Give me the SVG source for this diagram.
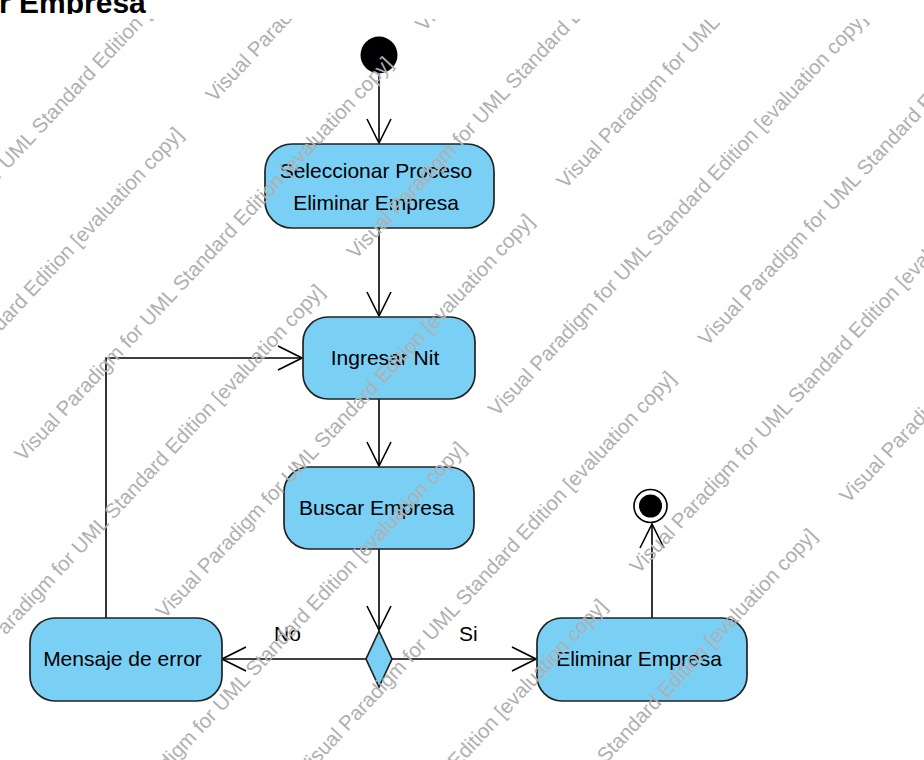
<svg xmlns="http://www.w3.org/2000/svg" width="924" height="760" viewBox="0 0 924 760">
<style>
.act { fill:#7ACFF5; stroke:#222; stroke-width:1.7; }
.lbl { font-family:"Liberation Sans",Arial,sans-serif; font-size:21px; fill:#000; text-anchor:middle; }
.elbl { font-family:"Liberation Sans",Arial,sans-serif; font-size:21px; fill:#000; }
.edge { fill:none; stroke:#000; stroke-width:1.6; marker-end:url(#arr); }
.wm { font-family:"Liberation Sans",Arial,sans-serif; font-size:20.5px; fill:#b0b0b0; }
.title { font-family:"Liberation Sans",Arial,sans-serif; font-size:30px; font-weight:bold; fill:#000; }
</style>
<defs>
<marker id="arr" markerUnits="userSpaceOnUse" viewBox="0 0 26 26" refX="25" refY="13" markerWidth="26" markerHeight="26" orient="auto">
<path d="M1,1 L25,13 L1,25" fill="none" stroke="#000" stroke-width="1.6"/>
</marker>
<clipPath id="titleclip"><rect x="0" y="0" width="924" height="14"/></clipPath>
<clipPath id="wmclip"><rect x="0" y="19" width="924" height="741"/></clipPath>
</defs>
<rect x="0" y="0" width="924" height="760" fill="#fff"/>
<text class="title" x="-1" y="13" clip-path="url(#titleclip)">r Empresa</text>

<g id="connectors">
<path class="edge" d="M379,74 V143"/>
<path class="edge" d="M379,228 V316"/>
<path class="edge" d="M379,399 V466"/>
<path class="edge" d="M379,549 V630"/>
<path class="edge" d="M366,659 H222"/>
<path class="edge" d="M392,659 H536"/>
<path class="edge" d="M652,618 V524"/>
<path class="edge" d="M106,618 V358 H302"/>
<text class="elbl" x="274" y="641">No</text>
<text class="elbl" x="459" y="641">Si</text>
</g>

<g id="start"><circle cx="379" cy="55" r="18.5" fill="#000"/></g>
<g id="seleccionar">
<rect class="act" x="265" y="144" width="229" height="84" rx="27"/>
<text class="lbl" x="376" y="178">Seleccionar Proceso</text>
<text class="lbl" x="376" y="209.5">Eliminar Empresa</text>
</g>
<g id="ingresar">
<rect class="act" x="303" y="317" width="172" height="82" rx="25"/>
<text class="lbl" x="385" y="365">Ingresar Nit</text>
</g>
<g id="buscar">
<rect class="act" x="284" y="467" width="190" height="82" rx="25"/>
<text class="lbl" x="376.5" y="515">Buscar Empresa</text>
</g>
<g id="decision">
<polygon class="act" points="379,631 392,659 379,687 366,659"/>
</g>
<g id="mensaje">
<rect class="act" x="30" y="618" width="192" height="83" rx="25"/>
<text class="lbl" x="122.5" y="666">Mensaje de error</text>
</g>
<g id="eliminar">
<rect class="act" x="537" y="618" width="210" height="83" rx="25"/>
<text class="lbl" x="639" y="666">Eliminar Empresa</text>
</g>
<g id="final">
<circle cx="650.5" cy="506" r="16.5" fill="#fff" stroke="#000" stroke-width="1.6"/>
<circle cx="650.5" cy="506" r="11.5" fill="#000"/>
</g>

<g id="watermark" clip-path="url(#wmclip)">
<g class="wm" transform="rotate(-47)">
<text x="-303.7" y="121.7">Visual Paradigm for UML Standard Edition [evaluation copy]</text>
<text x="71" y="227">Visual Paradigm for UML Standard Edition [evaluation copy]</text>
<text x="-517" y="227">Visual Paradigm for UML Standard Edition [evaluation copy]</text>
<text x="265.7" y="332.3">Visual Paradigm for UML Standard Edition [evaluation copy]</text>
<text x="-322.3" y="332.3">Visual Paradigm for UML Standard Edition [evaluation copy]</text>
<text x="52.4" y="437.6">Visual Paradigm for UML Standard Edition [evaluation copy]</text>
<text x="-535.6" y="437.6">Visual Paradigm for UML Standard Edition [evaluation copy]</text>
<text x="247.1" y="542.9">Visual Paradigm for UML Standard Edition [evaluation copy]</text>
<text x="-340.9" y="542.9">Visual Paradigm for UML Standard Edition [evaluation copy]</text>
<text x="33.8" y="648.2">Visual Paradigm for UML Standard Edition [evaluation copy]</text>
<text x="-554.2" y="648.2">Visual Paradigm for UML Standard Edition [evaluation copy]</text>
<text x="228.5" y="753.5">Visual Paradigm for UML Standard Edition [evaluation copy]</text>
<text x="-359.5" y="753.5">Visual Paradigm for UML Standard Edition [evaluation copy]</text>
<text x="15.2" y="858.8">Visual Paradigm for UML Standard Edition [evaluation copy]</text>
<text x="-572.8" y="858.8">Visual Paradigm for UML Standard Edition [evaluation copy]</text>
<text x="209.9" y="964.1">Visual Paradigm for UML Standard Edition [evaluation copy]</text>
<text x="-378.1" y="964.1">Visual Paradigm for UML Standard Edition [evaluation copy]</text>
</g>
</g>
</svg>
